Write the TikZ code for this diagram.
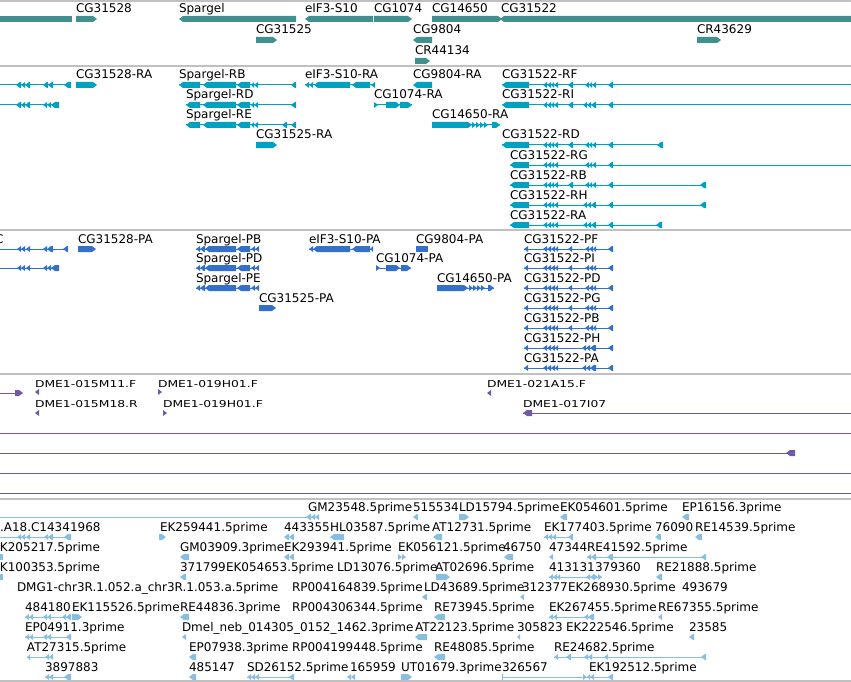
\documentclass[tikz,border=0pt]{standalone}
\usepackage{fontspec}
\setmainfont{DejaVu Sans}
\definecolor{c1}{RGB}{64,144,144}
\definecolor{c2}{RGB}{0,160,192}
\definecolor{c3}{RGB}{51,112,204}
\definecolor{c4}{RGB}{112,90,168}
\definecolor{c5}{RGB}{136,190,224}
\definecolor{sepgray}{RGB}{192,192,192}
\newcommand\exL[4]{\fill[#1] (#3,#2) -- ({min(#3+4,#4)},#2-3) -- (#4,#2-3) -- (#4,#2+3) -- ({min(#3+4,#4)},#2+3) -- cycle;}
\newcommand\exR[4]{\fill[#1] (#4,#2) -- ({max(#4-4,#3)},#2-3) -- (#3,#2-3) -- (#3,#2+3) -- ({max(#4-4,#3)},#2+3) -- cycle;}
\newcommand\exB[4]{\fill[#1] (#3,#2-3) rectangle (#4,#2+3);}
\newcommand\trL[5]{\draw[#1,line width=1pt] (#3,#2) -- (#4,#2); \foreach \a/\b in {#5} {\exL{#1}{#2}{\a}{\b}}}
\newcommand\trR[5]{\draw[#1,line width=1pt] (#3,#2) -- (#4,#2); \foreach \a/\b in {#5} {\exR{#1}{#2}{\a}{\b}}}
\newcommand\lb[3]{\node[lab] at (#1,#2-6) {#3};}
\newcommand\dm[3]{\node[dme] at (#1,#2) {#3};}
\begin{document}
\begin{tikzpicture}[x=1pt,y=-1pt,
  lab/.style={anchor=base west,inner sep=0pt,outer sep=0pt,font=\fontsize{12}{14}\selectfont},
  dme/.style={anchor=base west,inner sep=0pt,outer sep=0pt,font=\fontsize{9.5}{11}\selectfont,xscale=1.3},
  sep/.style={draw=sepgray,line width=1.5pt}]
\useasboundingbox (0,0) rectangle (851,682);
\fill[white] (0,0) rectangle (851,682);
\clip (0,0) rectangle (851,682);
% separators
\foreach \y in {1,66,230,374,499,681} \draw[sep] (0,\y) -- (851,\y);
% ---------------- track 1 : genes
\fill[c1] (0,16) rectangle (72,22);
\exR{c1}{19}{76}{97} \lb{76}{19}{CG31528}
\exL{c1}{19}{179}{296} \lb{179}{19}{Spargel}
\exL{c1}{19}{305}{373} \lb{305}{19}{eIF3-S10}
\exR{c1}{19}{374}{412} \lb{374}{19}{CG1074}
\exR{c1}{19}{432}{502} \lb{432}{19}{CG14650}
\exL{c1}{19}{500}{860} \lb{501}{19}{CG31522}
\exR{c1}{40}{256}{277} \lb{256}{40}{CG31525}
\exL{c1}{40}{413}{432} \lb{413}{40}{CG9804}
\exR{c1}{40}{697}{721} \lb{697}{40}{CR43629}
\exR{c1}{61}{415}{430} \lb{415}{61}{CR44134}
% ---------------- track 2 : transcripts
\trL{c2}{85}{0}{71}{16/21,21/25,25/30,43/48,48/53,64/71}
\exR{c2}{85}{76}{97} \lb{76}{85}{CG31528-RA}
\trL{c2}{85}{179}{296}{179/200,203/236,237/250,251/254,254/258,291/296} \lb{179}{85}{Spargel-RB}
\trL{c2}{85}{305}{375}{305/309,309/313,314/350,352/370,371/375} \lb{305}{85}{eIF3-S10-RA}
\exL{c2}{85}{413}{432} \lb{413}{85}{CG9804-RA}
\trL{c2}{85}{502}{851}{502/529,543/547,547/551,551/554,554/558,568/573,585/589,589/592,592/596,608/613} \lb{502}{85}{CG31522-RF}
\trL{c2}{105}{0}{59}{16/21,21/25,25/30,43/47,47/51,51/59}
\trL{c2}{105}{186}{296}{186/200,203/236,237/250,251/254,254/258,291/296} \lb{186}{105}{Spargel-RD}
\trR{c2}{105}{374}{412}{374/378,386/400,400/412} \lb{374}{105}{CG1074-RA}
\trL{c2}{105}{502}{851}{502/529,543/547,547/551,551/554,554/558,568/573,583/587,587/591,591/596,608/613} \lb{502}{105}{CG31522-RI}
\trL{c2}{125}{186}{296}{186/200,203/236,237/250,251/254,254/258,282/287,291/296} \lb{186}{125}{Spargel-RE}
\trR{c2}{125}{432}{500}{432/472,472/476,476/480,480/484,484/488,492/500} \lb{432}{125}{CG14650-RA}
\exR{c2}{145}{256}{277} \lb{256}{145}{CG31525-RA}
\trL{c2}{145}{502}{663}{502/529,543/547,547/551,551/554,554/558,568/573,585/589,589/592,592/596,608/613,657/663} \lb{502}{145}{CG31522-RD}
\trL{c2}{165}{510}{851}{510/529,543/547,547/551,551/554,554/558,585/589,589/592,592/596,608/613} \lb{510}{165}{CG31522-RG}
\trL{c2}{185}{510}{706}{510/529,543/547,547/551,551/554,554/558,568/573,585/589,589/592,592/596,608/613,700/706} \lb{510}{185}{CG31522-RB}
\trL{c2}{205}{510}{706}{510/529,543/547,547/551,551/554,554/558,583/587,587/591,591/596,608/613,700/706} \lb{510}{205}{CG31522-RH}
\trL{c2}{225}{510}{662}{510/529,543/547,547/551,551/554,554/558,583/587,587/591,591/596,608/613,656/662} \lb{510}{225}{CG31522-RA}
% ---------------- track 3 : proteins
\lb{-5}{249}{C}
\trL{c3}{249}{0}{68}{17/21,21/25,26/30,43/47,47/53,63/68}
\exR{c3}{249}{78}{96} \lb{78}{249}{CG31528-PA}
\trL{c3}{249}{196}{259}{196/200,200/205,205/236,237/250,251/255,255/259} \lb{196}{249}{Spargel-PB}
\trL{c3}{249}{309}{373}{309/313,313/350,352/370,370/373} \lb{309}{249}{eIF3-S10-PA}
\exB{c3}{249}{416}{428} \lb{416}{249}{CG9804-PA}
\trL{c3}{249}{524}{613}{524/528,543/547,547/551,551/555,555/558,568/572,585/589,589/593,593/596,608/613} \lb{524}{249}{CG31522-PF}
\trL{c3}{268}{0}{59}{17/21,21/25,26/30,43/47,47/51,51/59}
\trL{c3}{268}{196}{259}{196/200,200/205,205/236,237/250,251/255,255/259} \lb{196}{268}{Spargel-PD}
\trR{c3}{268}{376}{411}{376/380,386/400,401/411} \lb{376}{268}{CG1074-PA}
\trL{c3}{268}{524}{613}{524/528,543/547,547/551,551/555,555/558,568/572,585/589,589/593,593/596,608/613} \lb{524}{268}{CG31522-PI}
\trL{c3}{288}{196}{259}{196/200,200/205,205/236,237/250,251/255,255/259} \lb{196}{288}{Spargel-PE}
\trR{c3}{288}{437}{494}{437/468,469/473,473/477,477/481,481/485,488/494} \lb{437}{288}{CG14650-PA}
\trL{c3}{288}{524}{613}{524/528,543/547,547/551,551/555,555/558,568/572,585/589,589/593,593/596,608/613} \lb{524}{288}{CG31522-PD}
\exR{c3}{308}{259}{276} \lb{259}{308}{CG31525-PA}
\trL{c3}{308}{524}{613}{524/528,543/547,547/551,551/555,555/558,568/572,585/589,589/593,593/596,608/613} \lb{524}{308}{CG31522-PG}
\trL{c3}{328}{524}{613}{524/528,543/547,547/551,551/555,555/558,568/572,585/589,589/593,593/596,608/613} \lb{524}{328}{CG31522-PB}
\trL{c3}{348}{524}{613}{524/528,543/547,547/551,551/555,555/558,582/586,586/590,590/596,608/613} \lb{524}{348}{CG31522-PH}
\trL{c3}{368}{524}{613}{524/528,543/547,547/551,551/555,555/558,582/586,586/590,590/596,608/613} \lb{524}{368}{CG31522-PA}
% ---------------- track 4 : purple
\draw[c4,line width=1pt] (0,393) -- (16,393); \exR{c4}{393}{15}{23}
\exL{c4}{392}{35}{39} \dm{35}{387}{DME1-015M11.F}
\exR{c4}{392}{158}{162} \dm{158}{387}{DME1-019H01.F}
\exL{c4}{393}{487}{491} \dm{487}{387}{DME1-021A15.F}
\exL{c4}{413}{35}{39} \dm{35}{407}{DME1-015M18.R}
\exR{c4}{413}{163}{167} \dm{163}{407}{DME1-019H01.F}
\trL{c4}{413}{523}{851}{523/532} \dm{523}{407}{DME1-017I07}
\draw[c4,line width=1pt] (0,433) -- (851,433);
\trL{c4}{453}{0}{795}{786/795}
\draw[c4,line width=1pt] (0,473) -- (851,473);
\draw[c4,line width=1pt] (0,493) -- (851,493);
% ---------------- track 5 : light blue
% row 0
\trL{c5}{517}{0}{319}{306/311,311/315,315/319} \lb{308}{517}{GM23548.5prime}
\exL{c5}{517}{413}{418} \lb{413}{517}{515534}
\exR{c5}{517}{459}{469} \lb{459}{517}{LD15794.5prime}
\exL{c5}{517}{560}{567} \lb{560}{517}{EK054601.5prime}
\exL{c5}{517}{682}{689} \lb{682}{517}{EP16156.3prime}
% row 1
\trL{c5}{537}{0}{71}{17/21,21/25,26/30,44/48,48/53,64/71} \lb{0}{537}{.A18.C14341968}
\exR{c5}{537}{159}{166} \lb{160}{537}{EK259441.5prime}
\exL{c5}{537}{284}{289} \exL{c5}{537}{289}{294} \lb{284}{537}{443355}
\exL{c5}{537}{330}{344} \lb{330}{537}{HL03587.5prime}
\exL{c5}{537}{433}{442} \lb{432}{537}{AT12731.5prime}
\trL{c5}{537}{544}{573}{544/548,548/552,552/556,568/573} \lb{544}{537}{EK177403.5prime}
\exL{c5}{537}{655}{661} \lb{655}{537}{76090}
\exL{c5}{537}{695}{702} \lb{695}{537}{RE14539.5prime}
% row 2
\exB{c5}{557}{0}{3} \lb{-7.6}{557}{EK205217.5prime}
\exL{c5}{557}{180}{189} \lb{180}{557}{GM03909.3prime}
\exL{c5}{557}{284}{289} \exL{c5}{557}{289}{294} \lb{284}{557}{EK293941.5prime}
\exR{c5}{557}{398}{402} \exR{c5}{557}{402}{406} \lb{398}{557}{EK056121.5prime}
\exL{c5}{557}{504}{513} \lb{503}{557}{46750}
\exL{c5}{557}{549}{553} \lb{549}{557}{47344}
\trL{c5}{557}{587}{706}{587/591,591/596,607/613,701/706} \lb{587}{557}{RE41592.5prime}
% row 3
\exB{c5}{577}{0}{3} \lb{-7.6}{577}{EK100353.5prime}
\exL{c5}{577}{180}{186} \lb{180}{577}{371799}
\lb{226}{577}{EK054653.5prime}
\lb{337}{577}{LD13076.5prime}
\exR{c5}{577}{436}{450} \lb{435}{577}{AT02696.5prime}
\trL{c5}{577}{549}{602}{549/553,553/557,557/560,586/590,590/594} \exR{c5}{577}{594}{598} \exR{c5}{577}{598}{602}
\lb{549}{577}{413131} \lb{595}{577}{379360}
\exL{c5}{577}{656}{662} \lb{656}{577}{RE21888.5prime}
% row 4
\lb{17}{597}{DMG1-chr3R.1.052.a\_chr3R.1.053.a.5prime}
\lb{292}{597}{RP004164839.5prime}
\exL{c5}{597}{422}{427} \lb{424}{597}{LD43689.5prime}
\exL{c5}{597}{520}{524} \lb{522}{597}{312377}
\lb{568}{597}{EK268930.5prime}
\lb{682}{597}{493679}
% row 5
\trL{c5}{617}{25}{71}{25/29,29/33,43/47,47/51,62/66,66/71} \lb{25}{617}{484180}
\exR{c5}{617}{72}{82} \lb{72}{617}{EK115526.5prime}
\exL{c5}{617}{180}{189} \lb{180}{617}{RE44836.3prime}
\lb{292}{617}{RP004306344.5prime}
\exL{c5}{617}{434}{445} \lb{434}{617}{RE73945.5prime}
\trL{c5}{617}{549}{594}{549/553,553/557,584/588,588/594} \lb{549}{617}{EK267455.5prime}
\exL{c5}{617}{658}{662} \lb{658}{617}{RE67355.5prime}
% row 6
\trL{c5}{637}{25}{71}{25/29,29/33,43/47,47/51,66/71} \lb{25}{637}{EP04911.3prime}
\exL{c5}{637}{182}{186} \lb{182}{637}{Dmel\_neb\_014305\_0152\_1462.3prime}
\exL{c5}{637}{415}{427} \lb{415}{637}{AT22123.5prime}
\exL{c5}{637}{517}{520} \lb{517}{637}{305823}
\lb{566}{637}{EK222546.5prime}
\exL{c5}{637}{689}{694} \lb{689}{637}{23585}
% row 7
\trL{c5}{657}{27}{53}{27/30,45/49,49/53} \lb{27}{657}{AT27315.5prime}
\exL{c5}{657}{189}{196} \lb{189}{657}{EP07938.3prime}
\lb{292}{657}{RP004199448.5prime}
\exL{c5}{657}{434}{445} \lb{434}{657}{RE48085.5prime}
\trL{c5}{657}{554}{706}{554/558,566/571,584/588,588/592,604/608,701/706} \lb{554}{657}{RE24682.5prime}
% row 8
\trL{c5}{677}{45}{71}{45/49,49/53,64/71} \lb{45}{677}{3897883}
\exL{c5}{677}{189}{196} \lb{189}{677}{485147}
\trL{c5}{677}{247}{294}{247/251,251/255,255/259,289/294} \lb{247}{677}{SD26152.5prime}
\exL{c5}{677}{347}{351} \exL{c5}{677}{351}{355} \lb{350}{677}{165959}
\exR{c5}{677}{401}{412} \lb{401}{677}{UT01679.3prime}
\draw[c5,line width=1pt] (502,677) -- (613,677); \fill[c5] (502,674) rectangle (503,680);
\exR{c5}{677}{583}{587} \exL{c5}{677}{587}{590} \exL{c5}{677}{590}{594} \exL{c5}{677}{608}{613}
\lb{502}{677}{326567}
\lb{589}{677}{EK192512.5prime}
\end{tikzpicture}
\end{document}
